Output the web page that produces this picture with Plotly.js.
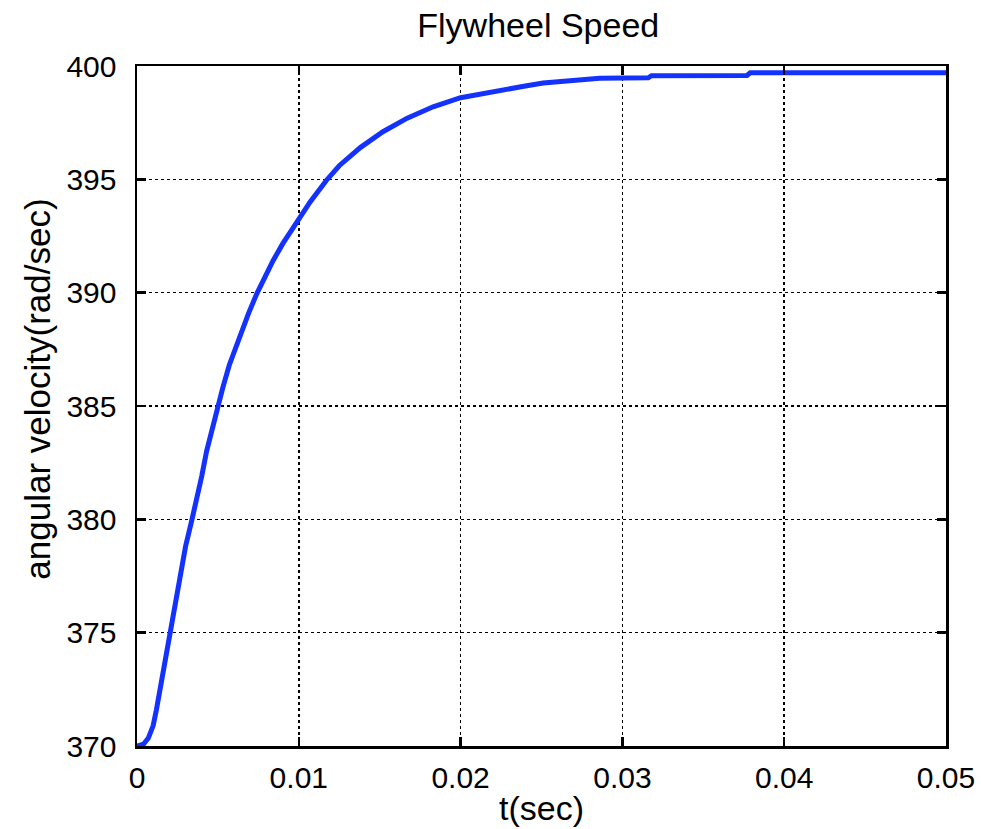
<!DOCTYPE html>
<html>
<head>
<meta charset="utf-8">
<script src="https://cdn.plot.ly/plotly-3.0.1.min.js"></script>
<style>html,body{margin:0;padding:0;background:#fff;}#chart{width:981px;height:829px;}</style>
</head>
<body>
<div id="chart"></div>
<script>
// time (sec)
const timeSec = [0, 0.0004, 0.0007, 0.001, 0.0012, 0.0015, 0.0018, 0.0021, 0.0024, 0.0027, 0.003,
  0.0034, 0.0037, 0.004, 0.0043, 0.0046, 0.005, 0.0053, 0.0057, 0.006, 0.0065, 0.0069, 0.0074,
  0.0078, 0.0084, 0.009, 0.01, 0.0107, 0.0117, 0.0125, 0.0138, 0.0152, 0.0167, 0.0183, 0.02,
  0.0214, 0.0231, 0.024, 0.0251, 0.0266, 0.0286, 0.0316, 0.0318, 0.0377, 0.0379, 0.05];
// angular velocity (rad/sec)
const angVel = [370, 370.08, 370.35, 370.9, 371.6, 372.8, 374.0, 375.1, 376.3, 377.5, 378.8,
  380.0, 380.9, 381.9, 383.0, 383.9, 384.9, 385.8, 386.8, 387.4, 388.3, 389.1, 389.95,
  390.55, 391.4, 392.15, 393.25, 394.0, 394.95, 395.6, 396.4, 397.1, 397.7, 398.2, 398.6,
  398.8, 399.0, 399.12, 399.25, 399.36, 399.46, 399.48, 399.57, 399.58, 399.70, 399.70];

const xTicks = [0, 0.01, 0.02, 0.03, 0.04, 0.05];
const xTickText = ['0', '0.01', '0.02', '0.03', '0.04', '0.05'];
const yTicks = [370, 375, 380, 385, 390, 395, 400];
const yTickText = ['370', '375', '380', '385', '390', '395', '400'];

const fontFam = '"Liberation Sans", Arial, Helvetica, sans-serif';

const trace = {
  x: timeSec, y: angVel, type: 'scatter', mode: 'lines',
  line: {color: 'rgb(20,50,255)', width: 5},
  hoverinfo: 'skip'
};

const axisCommon = {
  showline: true, linecolor: '#000', linewidth: 2.5, mirror: 'ticks',
  ticks: 'inside', ticklen: 9, tickwidth: 2.5, tickcolor: '#000',
  showgrid: true, gridcolor: '#000', gridwidth: 1.5, griddash: 'dot',
  zeroline: false, tickfont: {family: fontFam, size: 30, color: '#000'}
};

const layout = {
  width: 981, height: 829,
  margin: {l: 137, r: 35, t: 66, b: 83},
  paper_bgcolor: '#fff', plot_bgcolor: '#fff',
  showlegend: false,
  title: {text: 'Flywheel Speed', font: {family: fontFam, size: 34, color: '#000'},
          x: 0.496, xanchor: 'center', y: 0.97, yanchor: 'middle', xref: 'paper'},
  xaxis: Object.assign({}, axisCommon, {
    range: [0, 0.05], tickvals: xTicks, ticktext: xTickText,
    ticklabelstandoff: 3,
    title: {text: 't(sec)', font: {family: fontFam, size: 34, color: '#000'}, standoff: 4}
  }),
  yaxis: Object.assign({}, axisCommon, {
    range: [370, 400], tickvals: yTicks, ticktext: yTickText,
    ticklabelstandoff: 12
  }),
  annotations: [{
    text: 'angular velocity(rad/sec)', textangle: -90, showarrow: false,
    xref: 'paper', yref: 'paper', x: -0.124, y: 0.525, xanchor: 'center', yanchor: 'middle',
    font: {family: fontFam, size: 35, color: '#000'}
  }]
};

Plotly.newPlot('chart', [trace], layout, {displayModeBar: false, staticPlot: true});
</script>
</body>
</html>
